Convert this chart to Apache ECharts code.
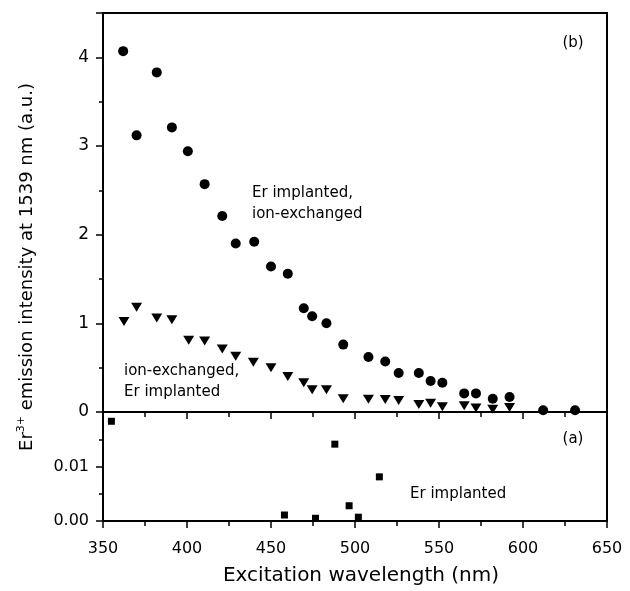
<!DOCTYPE html>
<html>
<head>
<meta charset="utf-8">
<script src="https://cdn.jsdelivr.net/npm/echarts@6/dist/echarts.min.js"></script>
<style>
html,body{margin:0;padding:0;background:#fff;}
#chart{width:630px;height:591px;}
</style>
</head>
<body>
<div id="chart"></div>
<script>
// Panel (b): Er implanted, ion-exchanged (circles)
var circleX = [362, 370, 382, 391, 400.5, 410.5, 421, 429, 440, 450, 460, 469.5, 474.5, 483, 493, 508, 518, 526, 538, 545, 552, 565, 572, 582, 592, 612, 631];
var circleY = [4.07, 3.12, 3.83, 3.21, 2.94, 2.57, 2.21, 1.90, 1.92, 1.64, 1.56, 1.17, 1.08, 1.00, 0.76, 0.62, 0.57, 0.44, 0.44, 0.35, 0.33, 0.21, 0.21, 0.15, 0.17, 0.02, 0.02];
// Panel (b): ion-exchanged, Er implanted (down triangles)
var triX = [362.5, 370, 382, 391, 401, 410.5, 421, 429, 439.5, 450, 460, 469.5, 474.5, 483, 493, 508, 518, 526, 538, 545, 552, 565, 572, 582, 592];
var triY = [1.02, 1.18, 1.06, 1.04, 0.81, 0.80, 0.71, 0.63, 0.56, 0.50, 0.40, 0.33, 0.25, 0.25, 0.15, 0.145, 0.14, 0.13, 0.085, 0.10, 0.06, 0.07, 0.045, 0.03, 0.05];
// Panel (a): Er implanted (squares)
var sqX = [355, 458, 476.5, 488, 496.5, 502, 514.5];
var sqY = [0.0183, 0.0011, 0.0005, 0.0141, 0.0028, 0.0007, 0.0081];

function pairs(xs, ys) { return xs.map(function (x, i) { return [x, ys[i]]; }); }

var FONT = '"DejaVu Sans", sans-serif';
var axisLineStyle = { color: '#000', width: 2 };

function xAxisDef(gi, showLabels) {
  return {
    type: 'value', gridIndex: gi, min: 350, max: 650, interval: 50,
    axisLine: { show: true, onZero: false, lineStyle: axisLineStyle },
    axisTick: { show: true, inside: false, length: 7, lineStyle: { color: '#000', width: 1.5 } },
    minorTick: { show: true, splitNumber: 2, length: 5, lineStyle: { color: '#000', width: 1.5 } },
    splitLine: { show: false },
    axisLabel: { show: showLabels, color: '#000', fontSize: 16, fontFamily: FONT, margin: 20 }
  };
}

var chart = echarts.init(document.getElementById('chart'), null, { renderer: 'canvas' });
var option = {
  backgroundColor: '#fff',
  animation: false,
  grid: [
    { left: 103, right: 23, top: 13, height: 399, show: true, borderColor: '#000', borderWidth: 2, backgroundColor: 'transparent' },
    { left: 103, right: 23, top: 412, height: 109, show: true, borderColor: '#000', borderWidth: 2, backgroundColor: 'transparent' }
  ],
  xAxis: [xAxisDef(0, false), xAxisDef(1, true)],
  yAxis: [
    {
      type: 'value', gridIndex: 0, min: 0, max: 4.5, interval: 1,
      axisLine: { show: true, onZero: false, lineStyle: axisLineStyle },
      axisTick: { show: true, inside: false, length: 7, lineStyle: { color: '#000', width: 1.5 } },
      minorTick: { show: true, splitNumber: 2, length: 4, lineStyle: { color: '#000', width: 1.5 } },
      splitLine: { show: false },
      axisLabel: { color: '#000', fontSize: 17, fontFamily: FONT, margin: 14, showMaxLabel: false,
        formatter: function (v) { return String(v); } }
    },
    {
      type: 'value', gridIndex: 1, min: 0, max: 0.02, interval: 0.01,
      axisLine: { show: true, onZero: false, lineStyle: axisLineStyle },
      axisTick: { show: true, inside: false, length: 7, lineStyle: { color: '#000', width: 1.5 } },
      minorTick: { show: true, splitNumber: 2, length: 4, lineStyle: { color: '#000', width: 1.5 } },
      splitLine: { show: false },
      axisLabel: { color: '#000', fontSize: 16, fontFamily: FONT, margin: 14, showMaxLabel: false,
        formatter: function (v) { return v.toFixed(2); } }
    }
  ],
  series: [
    { type: 'scatter', xAxisIndex: 0, yAxisIndex: 0, data: pairs(circleX, circleY),
      symbol: 'circle', symbolSize: 10, itemStyle: { color: '#000', opacity: 1 } },
    { type: 'scatter', xAxisIndex: 0, yAxisIndex: 0, data: pairs(triX, triY),
      symbol: 'triangle', symbolRotate: 180, symbolSize: [11, 9], itemStyle: { color: '#000', opacity: 1 } },
    { type: 'scatter', xAxisIndex: 1, yAxisIndex: 1, data: pairs(sqX, sqY),
      symbol: 'rect', symbolSize: 7, itemStyle: { color: '#000', opacity: 1 } }
  ],
  graphic: [
    { type: 'text', x: 573, y: 43, style: { text: '(b)', fill: '#000', font: '15px ' + FONT, textAlign: 'center', textVerticalAlign: 'middle' } },
    { type: 'text', x: 252, y: 204, style: { text: 'Er implanted,\nion-exchanged', fill: '#000', font: '15px ' + FONT, textAlign: 'left', textVerticalAlign: 'middle', lineHeight: 21 } },
    { type: 'text', x: 124, y: 382, style: { text: 'ion-exchanged,\nEr implanted', fill: '#000', font: '15px ' + FONT, textAlign: 'left', textVerticalAlign: 'middle', lineHeight: 21 } },
    { type: 'text', x: 573, y: 439, style: { text: '(a)', fill: '#000', font: '15px ' + FONT, textAlign: 'center', textVerticalAlign: 'middle' } },
    { type: 'text', x: 410, y: 494, style: { text: 'Er implanted', fill: '#000', font: '15px ' + FONT, textAlign: 'left', textVerticalAlign: 'middle' } },
    { type: 'text', x: 361, y: 576, style: { text: 'Excitation wavelength (nm)', fill: '#000', font: '20px ' + FONT, textAlign: 'center', textVerticalAlign: 'middle' } },
    { type: 'text', x: 27, y: 267, rotation: Math.PI / 2,
      style: {
        text: '{a|Er}{s|3+}{a| emission intensity at 1539 nm (a.u.)}',
        textAlign: 'center', textVerticalAlign: 'middle',
        rich: {
          a: { fontSize: 18, fontFamily: FONT, fill: '#000', color: '#000' },
          s: { fontSize: 11, fontFamily: FONT, fill: '#000', color: '#000', padding: [0, 0, 12, 0] }
        }
      } }
  ]
};
chart.setOption(option);
</script>
</body>
</html>
